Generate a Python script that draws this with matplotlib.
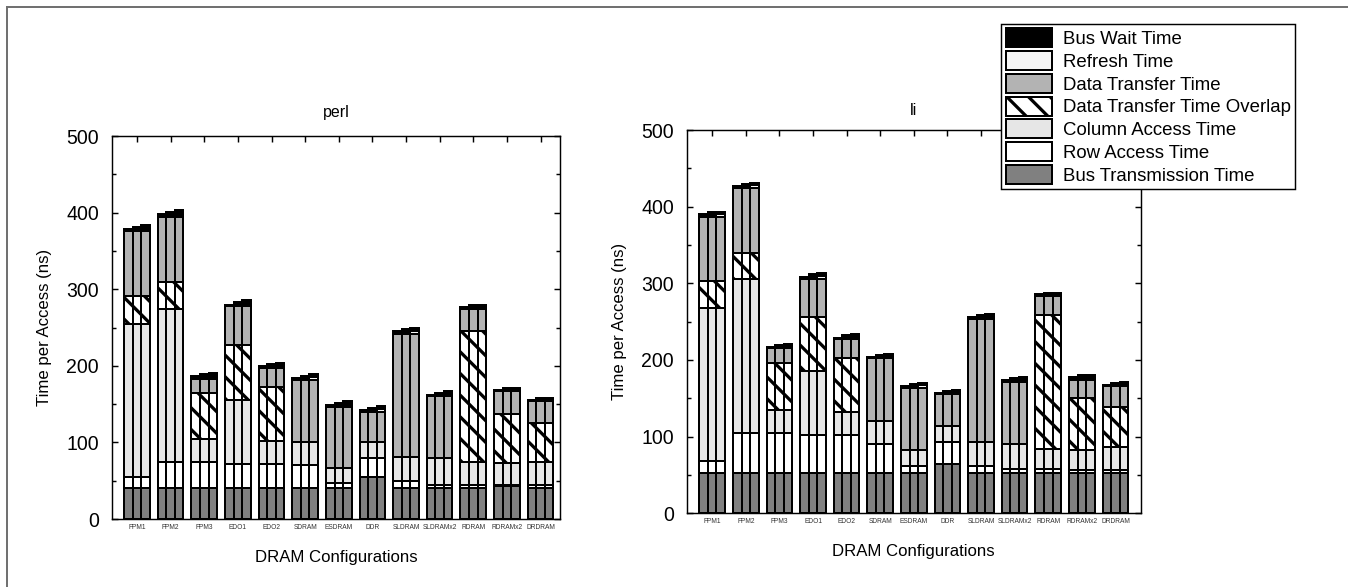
import numpy as np
import matplotlib
matplotlib.use('Agg')
import matplotlib.pyplot as plt
from matplotlib.patches import Patch
from matplotlib.lines import Line2D

plt.rcParams['font.family'] = ['Liberation Sans', 'DejaVu Sans']
plt.rcParams['hatch.linewidth'] = 1.8

configs = ['FPM1', 'FPM2', 'FPM3', 'EDO1', 'EDO2', 'SDRAM', 'ESDRAM', 'DDR',
           'SLDRAM', 'SLDRAMx2', 'RDRAM', 'RDRAMx2', 'DRDRAM']

# perl (ns per component, stacked bottom -> top)
perl_bus_trans = [41, 41, 41, 41, 41, 41, 41, 55, 41, 41, 41, 43, 41]
perl_row = [14, 33, 33, 31, 31, 30, 6, 25, 8, 4, 4, 2, 4]
perl_col = [200, 200, 30, 84, 30, 30, 20, 20, 32, 35, 30, 28, 29]
perl_overlap = [36, 35, 60, 71, 71, 0, 0, 0, 0, 0, 171, 64, 52]
perl_data = [85, 85, 19, 51, 24, 81, 79, 40, 161, 80, 28, 30, 28]
# three bars per configuration: refresh + bus wait differ
perl_refresh = [[0] * 13, [0] * 13, [3] * 13]
perl_wait = [[2.6, 4.0, 3.5, 2.0, 2.6, 2.0, 3.0, 2.3, 3.4, 2.0, 2.3, 1.4, 1.3],
             [5.6, 6.8, 6.5, 5.0, 5.0, 5.0, 6.0, 5.3, 6.0, 5.0, 5.4, 3.6, 4.4],
             [4.8, 6.0, 5.0, 4.5, 4.0, 4.0, 5.5, 4.5, 5.0, 4.0, 3.0, 1.5, 1.5]]

# li
li_bus_trans = [53, 53, 53, 53, 53, 53, 53, 64, 53, 52, 52, 52, 52]
li_row = [15, 52, 52, 49, 49, 37, 9, 29.5, 9, 6, 6, 4, 5]
li_col = [200, 200, 30, 84, 30, 30, 21, 20.5, 31, 33, 26, 26, 29]
li_overlap = [35, 35, 61, 70.5, 71, 0, 0, 0, 0, 0, 175, 68, 52]
li_data = [84, 85, 19, 49.5, 24, 82, 81, 41, 160, 80, 24, 24, 28]
li_refresh = [[0] * 13, [0] * 13, [3] * 13]
li_wait = [[3.0, 2.0, 2.0, 2.7, 2.0, 2.0, 2.0, 1.5, 3.0, 3.0, 2.6, 3.4, 1.3],
           [6.0, 5.0, 4.6, 5.7, 5.6, 4.5, 4.7, 4.0, 5.6, 5.5, 4.8, 6.0, 3.6],
           [3.5, 3.0, 3.0, 4.0, 3.5, 2.5, 3.0, 2.4, 4.0, 4.0, 2.0, 3.0, 2.0]]

c_bus = '#808080'
c_col = '#e6e6e6'
c_data = '#b3b3b3'
c_ref = '#f5f5f5'
HATCH = '\\\\'
EDGE_LW = 1.1

W, H, DPI = 1356, 587, 130
fig = plt.figure(figsize=(W / DPI, H / DPI), dpi=DPI)


def draw_panel(ax, title, title_y, bus, row, col, overlap, data, refresh, wait, xlim):
    x = np.arange(len(configs))
    w = 0.254
    for j in range(3):
        xs = x + (j - 1) * w
        bottom = np.zeros(len(configs))
        segs = [(bus, c_bus, None), (row, 'white', None), (col, c_col, None),
                (overlap, 'white', HATCH), (data, c_data, None),
                (refresh[j], c_ref, None), (wait[j], 'black', None)]
        for vals, color, hatch in segs:
            vals = np.asarray(vals, float)
            ax.bar(xs, vals, w, bottom=bottom, color=color, edgecolor='black',
                   linewidth=EDGE_LW, hatch=hatch, zorder=3)
            bottom += vals

    ax.set_xlim(*xlim)
    ax.set_ylim(0, 500)
    ax.set_yticks(range(0, 501, 100))
    ax.set_yticks(range(50, 500, 100), minor=True)
    ax.tick_params(axis='y', which='both', direction='in', left=True, right=True,
                   labelsize=10.8, pad=7, width=0.8)
    ax.tick_params(axis='y', which='major', length=3.5)
    ax.tick_params(axis='y', which='minor', length=2)
    ax.set_xticks(x)
    ax.set_xticklabels(configs, fontsize=3.7, color='#333333')
    ax.tick_params(axis='x', direction='in', bottom=False, top=True,
                   length=3.3, pad=2.5, width=0.8)
    for s in ax.spines.values():
        s.set_linewidth(0.8)

    ax.text(0.5, title_y, title, transform=ax.transAxes, ha='center',
            va='baseline', fontsize=8.9)
    ax.text(0.5, -0.112, 'DRAM Configurations', transform=ax.transAxes,
            ha='center', va='baseline', fontsize=9.3)
    ax.text(-0.149, 0.5, 'Time per Access (ns)', transform=ax.transAxes,
            ha='center', va='center', rotation=90, fontsize=9.3)


ax1 = fig.add_axes([0.0824, 0.1158, 0.3306, 0.6525])
draw_panel(ax1, 'perl', 1.050, perl_bus_trans, perl_row, perl_col, perl_overlap,
           perl_data, perl_refresh, perl_wait, (-0.753, 12.58))

ax2 = fig.add_axes([0.5064, 0.1256, 0.3348, 0.6529])
draw_panel(ax2, 'li', 1.039, li_bus_trans, li_row, li_col, li_overlap,
           li_data, li_refresh, li_wait, (-0.759, 12.75))

# legend
handles = [
    Patch(facecolor='black', edgecolor='black', lw=EDGE_LW, label='Bus Wait Time'),
    Patch(facecolor=c_ref, edgecolor='black', lw=EDGE_LW, label='Refresh Time'),
    Patch(facecolor=c_data, edgecolor='black', lw=EDGE_LW, label='Data Transfer Time'),
    Patch(facecolor='white', edgecolor='black', lw=EDGE_LW, hatch=HATCH,
          label='Data Transfer Time Overlap'),
    Patch(facecolor=c_col, edgecolor='black', lw=EDGE_LW, label='Column Access Time'),
    Patch(facecolor='white', edgecolor='black', lw=EDGE_LW, label='Row Access Time'),
    Patch(facecolor=c_bus, edgecolor='black', lw=EDGE_LW, label='Bus Transmission Time'),
]
leg = fig.legend(handles=handles, loc='upper right',
                 bbox_to_anchor=(1295 / W, 1 - 24 / H), fontsize=10.3,
                 frameon=True, fancybox=False, edgecolor='black', framealpha=1,
                 handlelength=2.5, handleheight=1.19, labelspacing=0.16,
                 handletextpad=0.55, borderpad=0.24, borderaxespad=0)
leg.get_frame().set_linewidth(0.8)

# partial frame around the figure (left and top edges only)
fig.add_artist(Line2D([7 / W, 7 / W], [0, 1 - 7 / H], color='#707070', lw=1.1,
                      transform=fig.transFigure))
fig.add_artist(Line2D([7 / W, 1347 / W], [1 - 7 / H, 1 - 7 / H], color='#707070',
                      lw=1.1, transform=fig.transFigure))

fig.savefig('out.png', dpi=DPI)
